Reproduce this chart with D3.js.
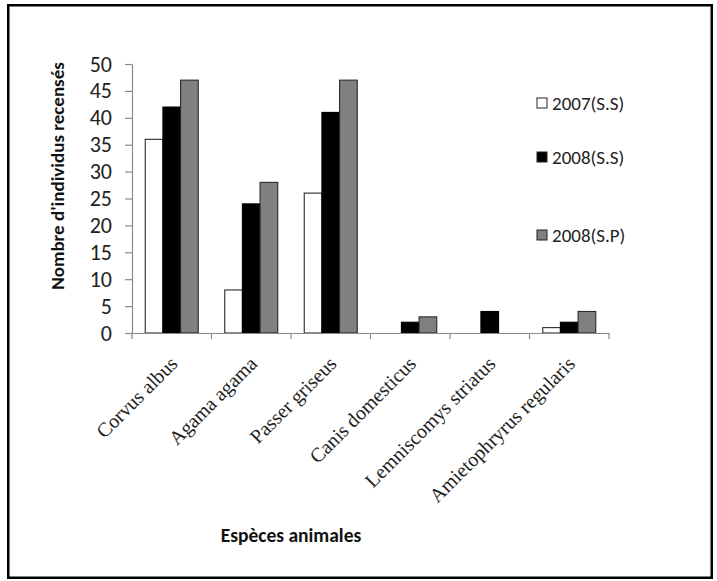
<!DOCTYPE html>
<html><head><meta charset="utf-8">
<script src="https://cdn.jsdelivr.net/npm/d3@7"></script>
<style>
html,body{margin:0;padding:0;background:#fff;}
svg{display:block;}
</style></head>
<body>
<svg id="chart" width="717" height="581"></svg>
<script>
const categories = ["Corvus albus","Agama agama","Passer griseus","Canis domesticus","Lemniscomys striatus","Amietophryrus regularis"];
const seriesNames = ["2007(S.S)","2008(S.S)","2008(S.P)"];
const values2007SS = [36, 8, 26, 0, 0, 1];
const values2008SS = [42, 24, 41, 2, 4, 2];
const values2008SP = [47, 28, 47, 3, 0, 4];
const yTicks = [0,5,10,15,20,25,30,35,40,45,50];
const seriesColors = ["#ffffff","#000000","#808080"];

const series = [values2007SS, values2008SS, values2008SP];
const sans = "Carlito, Calibri, 'Open Sans', sans-serif";
const svg = d3.select("#chart");

svg.append("rect").attr("x",8.25).attr("y",5.25).attr("width",703.5).attr("height",572.5)
  .attr("fill","none").attr("stroke","#000").attr("stroke-width",2.5);

const x0 = d3.scaleBand().domain(categories).range([132, 609]).paddingInner(0).paddingOuter(0);
const bw = x0.bandwidth()/4.5;
const x1 = d3.scaleBand().domain(seriesNames).range([0.75*bw, 3.75*bw]).padding(0);
const y = d3.scaleLinear().domain([0,50]).range([333, 64]);

// bars
const g = svg.append("g");
series.forEach((vals, si) => {
  g.selectAll(null).data(vals.map((v,i)=>({v, c:categories[i]})).filter(d=>d.v>0))
    .enter().append("rect")
    .attr("x", d => x0(d.c) + x1(seriesNames[si]))
    .attr("y", d => y(d.v))
    .attr("width", x1.bandwidth())
    .attr("height", d => y(0) - y(d.v))
    .attr("fill", seriesColors[si])
    .attr("stroke", si===1 ? "#000" : "#2a2a2a")
    .attr("stroke-width", 1.1);
});

// y axis
const yAxis = svg.append("g").attr("transform","translate(132,0)")
  .call(d3.axisLeft(y).tickValues(yTicks).tickSize(7).tickSizeOuter(0).tickPadding(13));
yAxis.select(".domain").attr("stroke","#8a8a8a").attr("stroke-width",1.2);
yAxis.selectAll(".tick line").attr("stroke","#8a8a8a").attr("stroke-width",1.2);
yAxis.selectAll(".tick text").attr("font-family",sans).attr("font-size",22).attr("fill","#222");

// x axis
const xAxis = svg.append("g").attr("transform","translate(0,333)")
  .call(d3.axisBottom(x0).tickSize(0).tickFormat(""));
xAxis.select(".domain").attr("stroke","#8a8a8a").attr("stroke-width",1.2);
xAxis.selectAll(".tick").remove();
const bounds = categories.map(c => x0(c)).concat([x0.range()[1]]);
xAxis.selectAll("line.sep").data(bounds).enter().append("line")
  .attr("x1", d=>d).attr("x2", d=>d).attr("y1",0).attr("y2",6)
  .attr("stroke","#8a8a8a").attr("stroke-width",1.2);

// x labels
svg.append("g").selectAll("text").data(categories).enter().append("text")
  .attr("transform", d => `translate(${x0(d)+x0.bandwidth()/2+7},${365}) rotate(-45)`)
  .attr("text-anchor","end")
  .attr("font-family","'Liberation Serif','Times New Roman',serif")
  .attr("font-size",20).attr("fill","#222")
  .text(d=>d);

// axis titles
svg.append("text").attr("transform","translate(64,176) rotate(-90)")
  .attr("text-anchor","middle").attr("font-family",sans).attr("font-weight","bold")
  .attr("font-size",19).attr("fill","#111").text("Nombre d'individus recensés");
svg.append("text").attr("x",291).attr("y",542)
  .attr("text-anchor","middle").attr("font-family",sans).attr("font-weight","bold")
  .attr("font-size",19.5).attr("fill","#111").text("Espèces animales");

// legend
const legY = [103, 157, 235];
const leg = svg.append("g");
seriesNames.forEach((s,i) => {
  leg.append("rect").attr("x",537).attr("y",legY[i]-5).attr("width",10).attr("height",10)
    .attr("fill",seriesColors[i]).attr("stroke", "#222").attr("stroke-width",1);
  leg.append("text").attr("x",552).attr("y",legY[i]).attr("dy","0.35em")
    .attr("font-family",sans).attr("font-size",19).attr("fill","#222").text(s);
});
</script>
</body></html>
